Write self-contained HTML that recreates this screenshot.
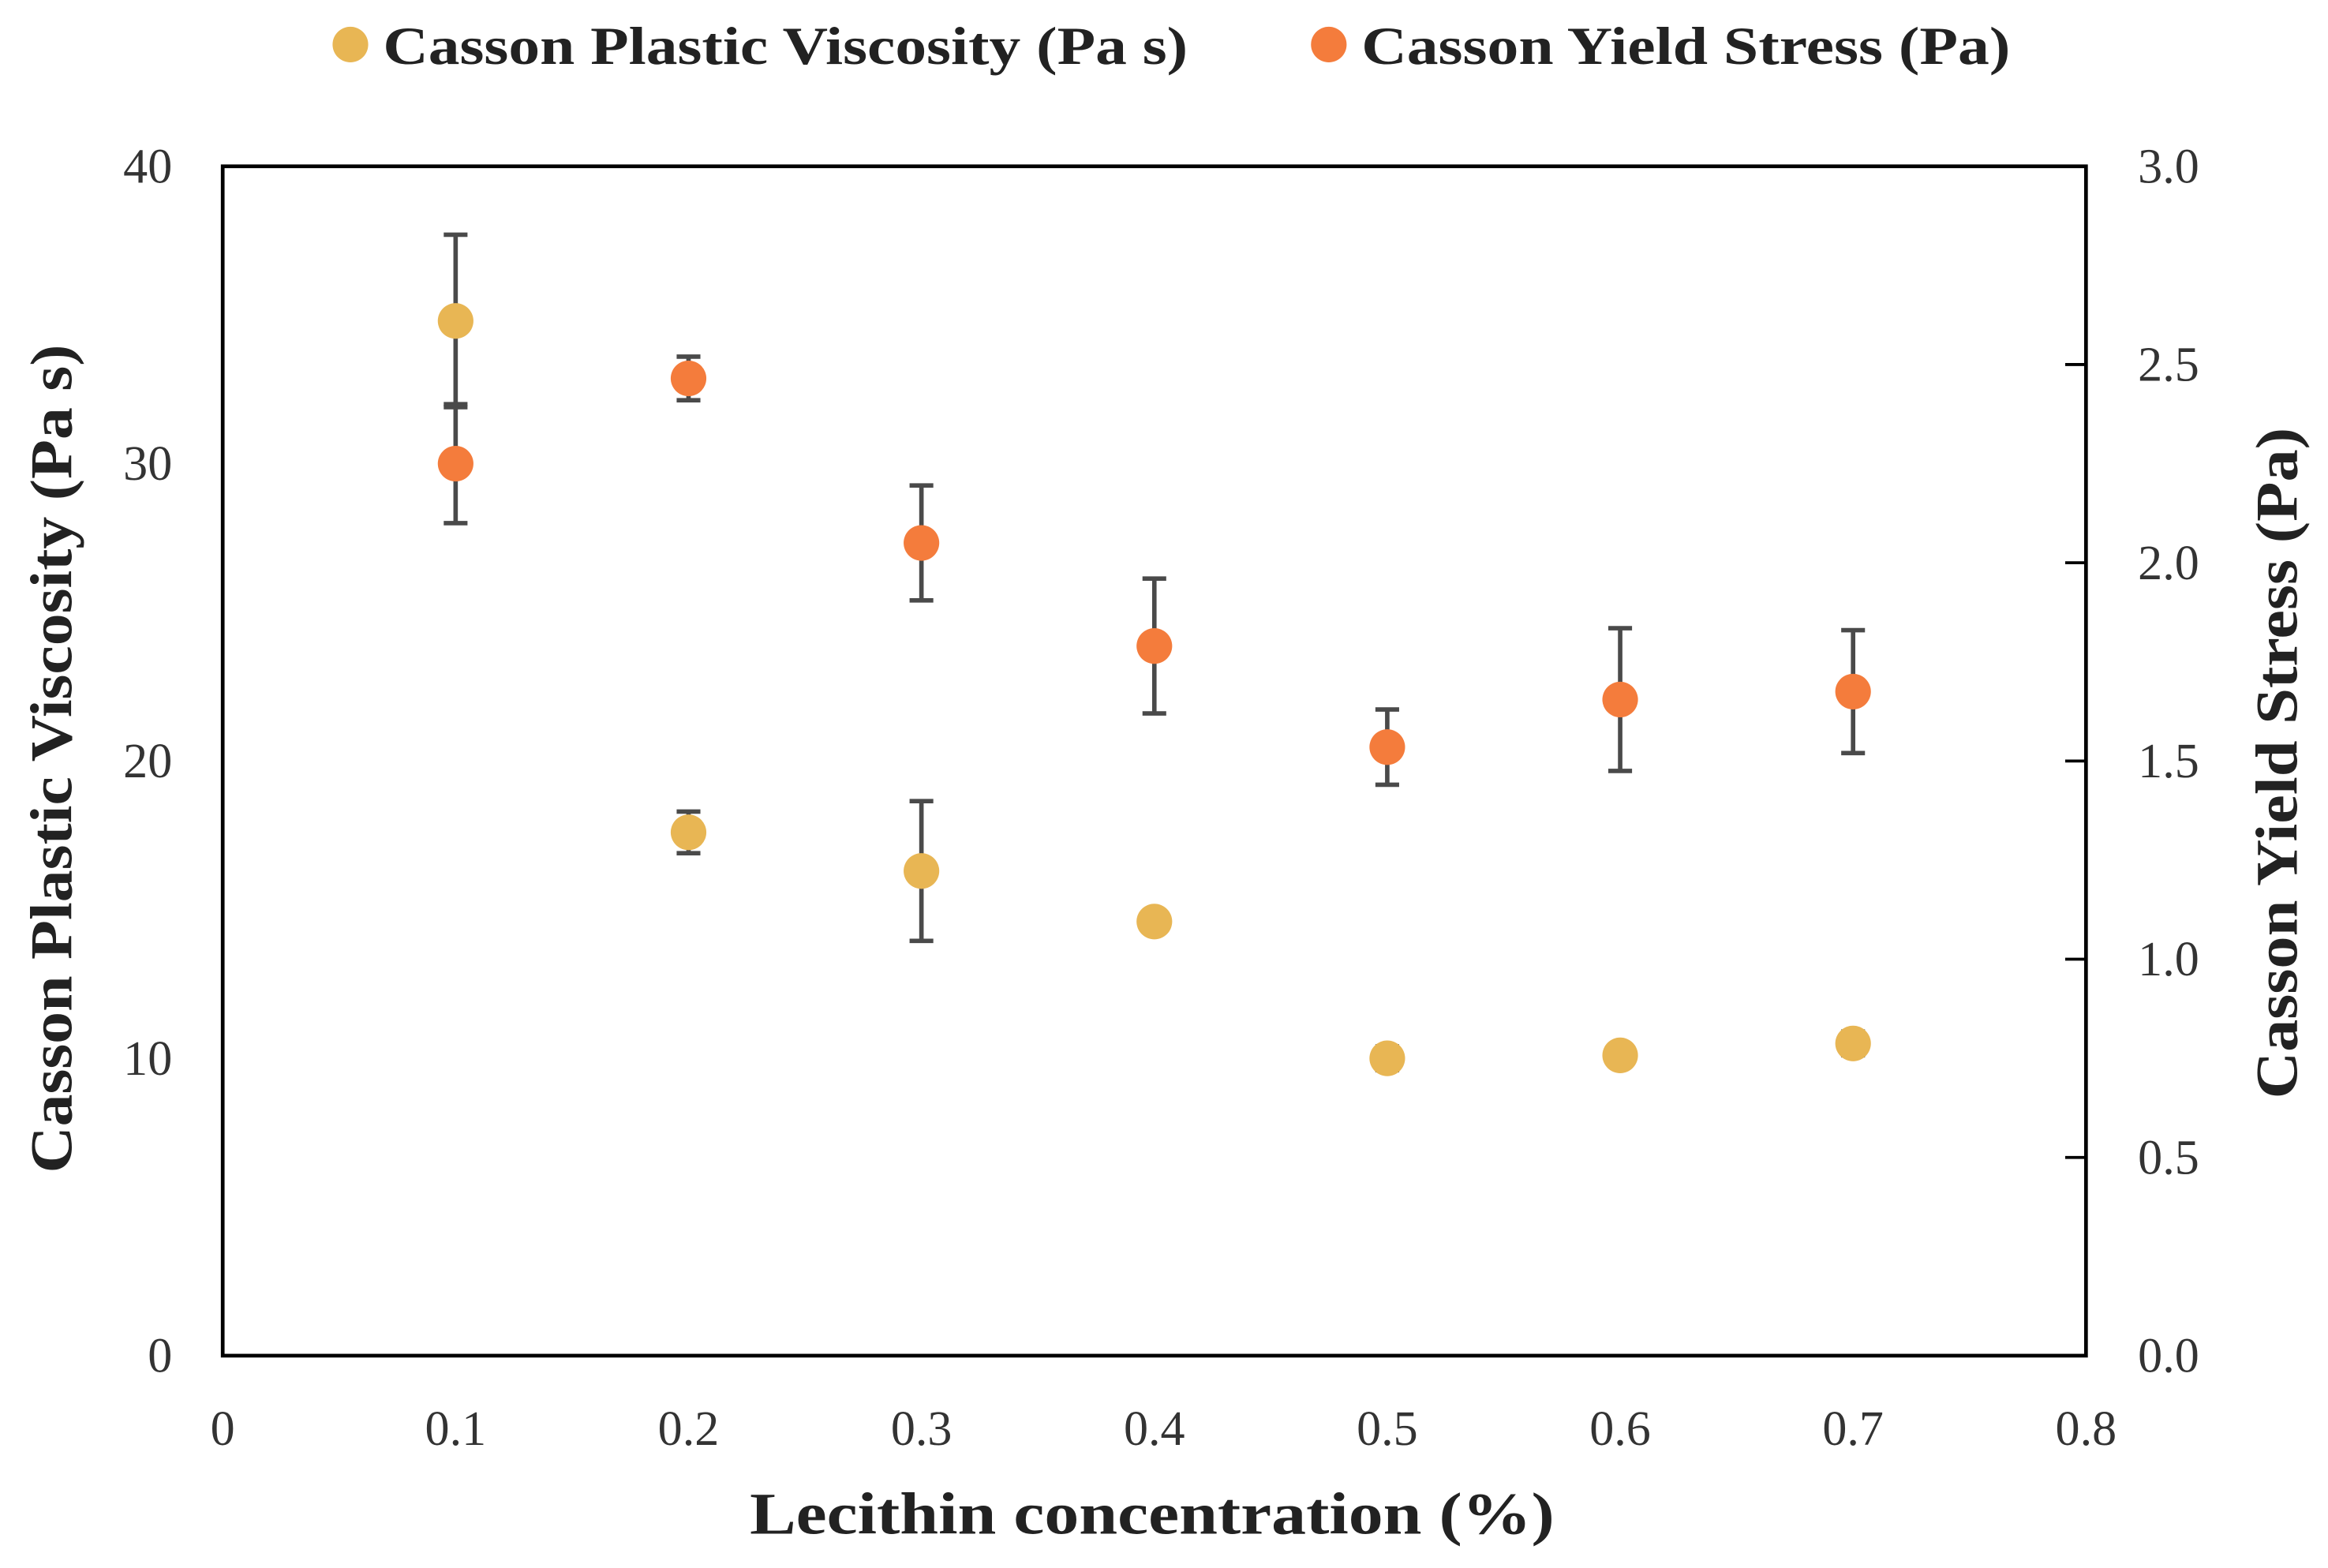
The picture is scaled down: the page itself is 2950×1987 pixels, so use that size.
<!DOCTYPE html>
<html><head><meta charset="utf-8"><style>html,body{margin:0;padding:0;background:#fff}svg{display:block}</style></head>
<body>
<svg id="chart" width="2950" height="1987" viewBox="0 0 1568 1056" preserveAspectRatio="none" xmlns="http://www.w3.org/2000/svg" font-family="'Liberation Serif', serif">
<g>
 <circle cx="236" cy="30" r="12" fill="#E8B654"/>
 <text x="258" y="43" font-size="36" font-weight="bold" fill="#222" textLength="542" lengthAdjust="spacingAndGlyphs">Casson Plastic Viscosity (Pa s)</text>
 <circle cx="895" cy="30" r="12" fill="#F47C3C"/>
 <text x="917" y="43" font-size="36" font-weight="bold" fill="#222" textLength="437" lengthAdjust="spacingAndGlyphs">Casson Yield Stress (Pa)</text>
</g>
<rect x="150" y="112" width="1255" height="801" fill="none" stroke="#000" stroke-width="2.5"/>
<g id="axes"></g>
<g id="marks"></g>
<text x="505" y="1033" font-size="40" font-weight="bold" fill="#222" textLength="542" lengthAdjust="spacingAndGlyphs">Lecithin concentration (%)</text>
<text transform="translate(48,790) rotate(-90)" font-size="40" font-weight="bold" fill="#222" textLength="558" lengthAdjust="spacingAndGlyphs">Casson Plastic Viscosity (Pa s)</text>
<text transform="translate(1547,740) rotate(-90)" font-size="40" font-weight="bold" fill="#222" textLength="452" lengthAdjust="spacingAndGlyphs">Casson Yield Stress (Pa)</text>
</svg>
<script>
const categories = [0.1, 0.2, 0.3, 0.4, 0.5, 0.6, 0.7];
const viscosity = [34.8, 17.6, 16.3, 14.6, 10.0, 10.1, 10.5];
const viscosityErr = [2.9, 0.7, 2.35, 0.3, 0.4, 0.3, 0.4];
const yieldStress = [2.25, 2.465, 2.05, 1.79, 1.535, 1.655, 1.675];
const yieldErr = [0.15, 0.055, 0.145, 0.17, 0.095, 0.18, 0.155];
const xTicks = ["0", "0.1", "0.2", "0.3", "0.4", "0.5", "0.6", "0.7", "0.8"];
const yLeftTicks = ["0", "10", "20", "30", "40"];
const yRightTicks = ["0.0", "0.5", "1.0", "1.5", "2.0", "2.5", "3.0"];

const NS = "http://www.w3.org/2000/svg";
const L = 150, R = 1405, T = 112, B = 913;
const xS = v => L + (v / 0.8) * (R - L);
const yL = v => B - (v / 40) * (B - T);
const yR = v => B - (v / 3) * (B - T);
function mk(tag, attrs, parent) {
  const e = document.createElementNS(NS, tag);
  for (const k in attrs) e.setAttribute(k, attrs[k]);
  parent.appendChild(e);
  return e;
}
const axes = document.getElementById("axes");
const marks = document.getElementById("marks");
xTicks.forEach(t => {
  const el = mk("text", {x: xS(parseFloat(t)), y: 973, "font-size": 33, "text-anchor": "middle", fill: "#333"}, axes);
  el.textContent = t;
  
  
});
yLeftTicks.forEach(t => {
  const el = mk("text", {x: 116, y: yL(parseFloat(t)) + 11, "font-size": 33, "text-anchor": "end", fill: "#333"}, axes);
  el.textContent = t;
  
  
});
yRightTicks.forEach(t => {
  const v = parseFloat(t);
  const el = mk("text", {x: 1440, y: yR(v) + 11, "font-size": 33, "text-anchor": "start", fill: "#333"}, axes);
  el.textContent = t;
  
  
  const tk = mk("line", {x1: R - 14, x2: R, y1: yR(v), y2: yR(v), stroke: "#000", "stroke-width": 2}, axes);
  
  
});
function series(vals, errs, yf, color, name) {
  categories.forEach((c, i) => {
    const x = xS(c), y1 = yf(vals[i] + errs[i]), y2 = yf(vals[i] - errs[i]);
    const g = mk("g", {stroke: "#4a4a4a", "stroke-width": 3}, marks);
    
    
    mk("line", {x1: x, x2: x, y1: y1, y2: y2}, g);
    mk("line", {x1: x - 8, x2: x + 8, y1: y1, y2: y1}, g);
    mk("line", {x1: x - 8, x2: x + 8, y1: y2, y2: y2}, g);
  });
  categories.forEach((c, i) => {
    const p = mk("circle", {cx: xS(c), cy: yf(vals[i]), r: 12, fill: color}, marks);
    
    
  });
}
series(viscosity, viscosityErr, yL, "#E8B654", "viscosity");
series(yieldStress, yieldErr, yR, "#F47C3C", "yield-stress");
</script>
</body></html>
